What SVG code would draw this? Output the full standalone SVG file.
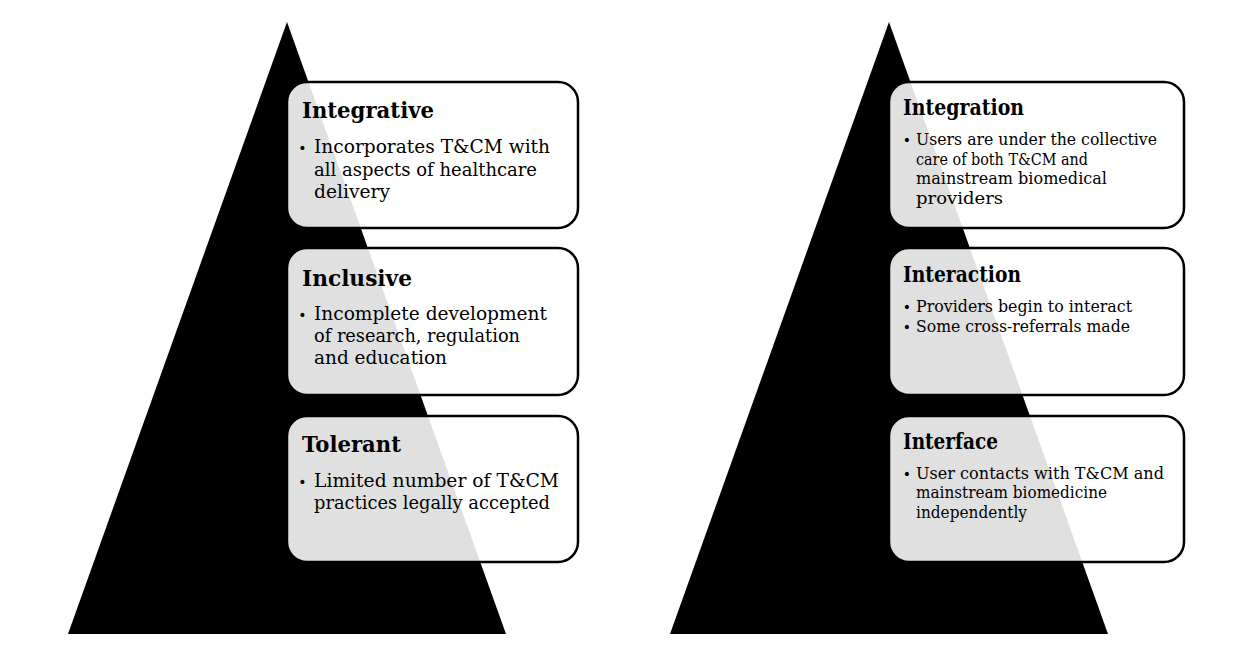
<svg xmlns="http://www.w3.org/2000/svg" width="1260" height="656" viewBox="0 0 1260 656">
<style>
.tri{fill:#000}
.box{fill:#fff;fill-opacity:0.88;stroke:#000;stroke-width:2.5}
.t{font-family:"DejaVu Serif","Liberation Serif",serif;font-weight:bold;font-size:22px;fill:#000}
.b{font-family:"DejaVu Serif","Liberation Serif",serif;font-size:19px;fill:#000}
.bs{font-family:"DejaVu Serif","Liberation Serif",serif;font-size:17px;fill:#000}
.dot{font-family:"DejaVu Sans",sans-serif;font-size:14px;fill:#000;text-anchor:middle}
</style>
<rect width="1260" height="656" fill="#fff"/>
<g id="pyramid-left"><polygon class="tri" points="287,22 506,634 68,634"/></g>
<g id="pyramid-right"><polygon class="tri" points="889,22 1108,634 670,634"/></g>

<g id="integrative">
<rect class="box" x="287" y="82" width="291" height="146" rx="20"/>
<text class="t" x="302" y="118" textLength="132" lengthAdjust="spacingAndGlyphs">Integrative</text>
<text class="dot" x="302.5" y="153">•</text>
<text class="b" x="314" y="153" textLength="236" lengthAdjust="spacingAndGlyphs">Incorporates T&amp;CM with</text>
<text class="b" x="314" y="175.5" textLength="223" lengthAdjust="spacingAndGlyphs">all aspects of healthcare</text>
<text class="b" x="314" y="198" textLength="76" lengthAdjust="spacingAndGlyphs">delivery</text>
</g>
<g id="inclusive">
<rect class="box" x="287" y="248" width="291" height="147" rx="20"/>
<text class="t" x="302" y="285.5" textLength="110" lengthAdjust="spacingAndGlyphs">Inclusive</text>
<text class="dot" x="302.5" y="320">•</text>
<text class="b" x="314" y="320" textLength="233" lengthAdjust="spacingAndGlyphs">Incomplete development</text>
<text class="b" x="314" y="342" textLength="206" lengthAdjust="spacingAndGlyphs">of research, regulation</text>
<text class="b" x="314" y="364" textLength="133" lengthAdjust="spacingAndGlyphs">and education</text>
</g>
<g id="tolerant">
<rect class="box" x="287" y="416" width="291" height="146" rx="20"/>
<text class="t" x="302" y="452" textLength="99" lengthAdjust="spacingAndGlyphs">Tolerant</text>
<text class="dot" x="302.5" y="487">•</text>
<text class="b" x="314" y="487" textLength="245" lengthAdjust="spacingAndGlyphs">Limited number of T&amp;CM</text>
<text class="b" x="314" y="509" textLength="236" lengthAdjust="spacingAndGlyphs">practices legally accepted</text>
</g>

<g id="integration">
<rect class="box" x="889" y="82" width="295" height="146" rx="20"/>
<text class="t" x="903" y="115" textLength="121" lengthAdjust="spacingAndGlyphs">Integration</text>
<text class="dot" x="907" y="145">•</text>
<text class="bs" x="916" y="145" textLength="241" lengthAdjust="spacingAndGlyphs">Users are under the collective</text>
<text class="bs" x="916" y="164.5" textLength="172" lengthAdjust="spacingAndGlyphs">care of both T&amp;CM and</text>
<text class="bs" x="916" y="184" textLength="191" lengthAdjust="spacingAndGlyphs">mainstream biomedical</text>
<text class="bs" x="916" y="203.5" textLength="87" lengthAdjust="spacingAndGlyphs">providers</text>
</g>
<g id="interaction">
<rect class="box" x="889" y="248" width="295" height="147" rx="20"/>
<text class="t" x="903" y="282" textLength="118" lengthAdjust="spacingAndGlyphs">Interaction</text>
<text class="dot" x="907" y="312">•</text>
<text class="bs" x="916" y="312" textLength="216" lengthAdjust="spacingAndGlyphs">Providers begin to interact</text>
<text class="dot" x="907" y="332">•</text>
<text class="bs" x="916" y="332" textLength="214" lengthAdjust="spacingAndGlyphs">Some cross-referrals made</text>
</g>
<g id="interface">
<rect class="box" x="889" y="416" width="295" height="146" rx="20"/>
<text class="t" x="903" y="448.5" textLength="95" lengthAdjust="spacingAndGlyphs">Interface</text>
<text class="dot" x="907" y="478.5">•</text>
<text class="bs" x="916" y="478.5" textLength="248" lengthAdjust="spacingAndGlyphs">User contacts with T&amp;CM and</text>
<text class="bs" x="916" y="498" textLength="191" lengthAdjust="spacingAndGlyphs">mainstream biomedicine</text>
<text class="bs" x="916" y="517.5" textLength="111" lengthAdjust="spacingAndGlyphs">independently</text>
</g>
<g id="connectors"></g>
</svg>
